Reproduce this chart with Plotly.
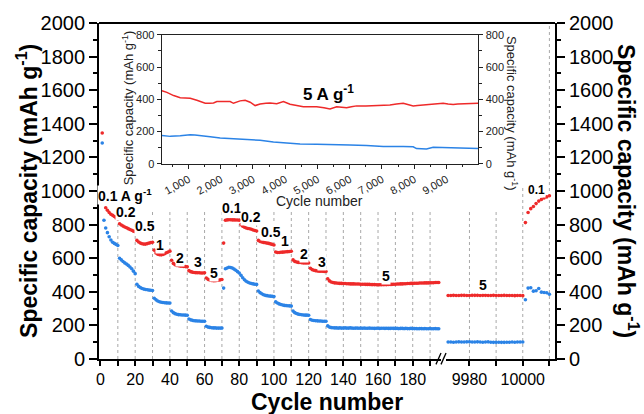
import plotly.graph_objects as go

# ---------------- data ----------------
# segment 1: cycles 1..195 (rate test 0.1-5 A/g, then 5 A/g)
cycles_seg1 = list(range(1, 196))
red_seg1 = [1345,
    940, 900, 885, 872, 862, 855, 848, 840, 833,
    805, 798, 791, 786, 781, 776, 771, 766, 761, 757,
    706, 696, 690, 686, 684, 684, 687, 690, 693, 695,
    648, 631, 624, 621, 620, 622, 627, 632, 637, 642,
    588, 569, 561, 557, 555, 553, 552, 551, 550, 549,
    526, 520, 517, 515, 514, 513, 513, 512, 512, 513,
    482, 474, 470, 467, 466, 466, 467, 469, 471, 473,
    690, 826, 828, 829, 829, 828, 828, 827, 827, 826,
    800, 790, 784, 780, 777, 775, 772, 768, 765, 762,
    706, 700, 696, 694, 692, 690, 688, 685, 682, 679,
    637, 634, 634, 635, 636, 637, 638, 639, 640, 641,
    590, 581, 577, 575, 574, 573, 572, 572, 571, 571,
    540, 532, 528, 526, 524, 523, 522, 522, 521, 521,
    478, 465, 458, 455, 453, 452, 451, 450, 450, 449,
    449, 448, 448, 447, 447, 447, 446, 446, 446, 445,
    445, 445, 444, 444, 444, 443, 443, 443, 442, 442,
    442, 442, 443, 443, 443, 444, 444, 444, 445, 445,
    446, 446, 447, 447, 448, 448, 449, 449, 450, 450,
    451, 451, 451, 452, 452, 452, 453, 453, 453, 454,
    454, 454, 455, 455, 455]
blue_seg1 = [1286,
    826, 780, 752, 728, 708, 695, 688, 682, 676,
    600, 590, 580, 572, 565, 557, 548, 537, 523, 508,
    445, 432, 425, 420, 416, 414, 412, 410, 409, 408,
    362, 352, 345, 341, 338, 336, 335, 334, 333, 333,
    286, 276, 270, 266, 264, 263, 262, 262, 261, 260,
    238, 233, 230, 228, 227, 226, 226, 225, 225, 225,
    195, 190, 188, 186, 185, 185, 184, 184, 184, 184,
    422, 537, 542, 546, 545, 541, 535, 528, 520, 512,
    498, 484, 472, 463, 457, 452, 449, 447, 445, 444,
    405, 395, 388, 382, 379, 377, 375, 374, 373, 372,
    340, 333, 328, 324, 321, 319, 318, 317, 316, 315,
    285, 276, 271, 267, 265, 263, 262, 261, 261, 260,
    235, 231, 229, 228, 227, 226, 226, 225, 225, 225,
    197, 190, 187, 186, 185, 185, 184, 185, 184, 184,
    185, 184, 184, 185, 184, 183, 184, 184, 183, 184,
    183, 184, 183, 183, 184, 183, 183, 182, 183, 183,
    182, 183, 183, 182, 183, 182, 182, 183, 182, 182,
    182, 181, 182, 182, 181, 182, 181, 181, 182, 181,
    181, 181, 180, 181, 181, 180, 181, 180, 180, 181,
    180, 180, 181, 180, 180]

# segment 2: cycles 9972..10010 (5 A/g, then 0.1 A/g)
cycles_seg2 = list(range(9972, 10011))
red_seg2 = [378, 378, 379, 378, 378, 379, 379, 378, 378, 379,
            379, 379, 378, 379, 379, 378, 378, 379, 378, 378,
            378, 379, 378, 378, 378, 377, 378, 378, 377,
            812, 872, 895, 908, 925, 940, 950, 958, 965, 972]
blue_seg2 = [101, 101, 100, 101, 102, 101, 101, 102, 102, 101,
             101, 102, 101, 100, 101, 102, 100, 99, 99, 100,
             99, 99, 100, 100, 101, 100, 101, 101, 101,
             353, 422, 424, 404, 406, 420, 398, 396, 394, 385]

# inset: long cycling at 5 A/g
inset_red_cycle = [177, 330, 540, 745, 900, 1054, 1260, 1400, 1519, 1650, 1777, 1880,
                   2100, 2293, 2396, 2500, 2602, 2757, 2912, 3067, 3221, 3400, 3531,
                   3737, 3944, 4150, 4350, 4563, 4800, 4976, 5200, 5389, 5595, 5750,
                   5905, 6050, 6214, 6500, 6833, 7050, 7246, 7450, 7659, 7800, 7968,
                   8100, 8278, 8500, 8691, 8897, 9050, 9207, 9350, 9517, 9700, 9981]
inset_red_cap = [453, 443, 423, 410, 408, 406, 394, 382, 375, 376, 377, 386,
                 386, 386, 375, 384, 390, 394, 382, 361, 371, 376, 377,
                 373, 386, 369, 360, 353, 354, 353, 347, 340, 353, 350,
                 347, 354, 359, 358, 359, 362, 365, 370, 375, 368, 359,
                 362, 365, 367, 369, 375, 370, 367, 371, 373, 372, 375]
inset_blue_cycle = [177, 435, 745, 1054, 1200, 1364, 1673, 1983, 2396, 2809, 3221,
                    3634, 3944, 4460, 4976, 5595, 6008, 6524, 7040, 7659, 7968,
                    8072, 8381, 8588, 9104, 9620, 9981]
inset_blue_cap = [176, 170, 174, 180, 178, 176, 168, 160, 154, 148, 146,
                  135, 129, 123, 121, 121, 117, 113, 107, 107, 105,
                  94, 92, 103, 98, 96, 94]

# rate-step boundaries (dashed lines)
boundaries_seg1 = list(range(10, 200, 10))
boundaries_seg2 = [9980, 9990, 10000, 10010]

# ticks
xticks_seg1 = list(range(0, 200, 20))
xminor_seg1 = list(range(10, 200, 20))
xticks_seg2 = [9980, 10000]
xminor_seg2 = [9990, 10010]

# rate labels
labels_seg1_text = ["0.1 A g<sup>-1</sup>", "0.2", "0.5", "1", "2", "3", "5",
                    "0.1", "0.2", "0.5", "1", "2", "3", "5"]
labels_seg1_x = [14.1, 14.7, 25.6, 34.3, 45.8, 56.0, 65.4,
                 75.6, 86.6, 98.1, 106.3, 117.3, 127.5, 164.6]
labels_seg1_y = [976, 877, 793, 679, 602, 576, 513,
                 901, 846, 757, 704, 625, 576, 497]
labels_seg2_text = ["5", "0.1"]
labels_seg2_x = [9985, 10005]
labels_seg2_y = [438, 1004]

RED = "#ee2a2a"
BLUE = "#2b83e6"
FONT = "Liberation Sans, Arial, sans-serif"
MS = 3.6

fig = go.Figure()
fig.add_trace(go.Scatter(x=cycles_seg1, y=red_seg1, mode="markers",
                         marker=dict(color=RED, size=MS), xaxis="x", yaxis="y"))
fig.add_trace(go.Scatter(x=cycles_seg1, y=blue_seg1, mode="markers",
                         marker=dict(color=BLUE, size=MS), xaxis="x", yaxis="y"))
fig.add_trace(go.Scatter(x=cycles_seg2, y=red_seg2, mode="markers",
                         marker=dict(color=RED, size=MS), xaxis="x2", yaxis="y2"))
fig.add_trace(go.Scatter(x=cycles_seg2, y=blue_seg2, mode="markers",
                         marker=dict(color=BLUE, size=MS), xaxis="x2", yaxis="y2"))
fig.add_trace(go.Scatter(x=inset_blue_cycle, y=inset_blue_cap, mode="lines",
                         line=dict(color=BLUE, width=1.5), xaxis="x3", yaxis="y3"))
fig.add_trace(go.Scatter(x=inset_red_cycle, y=inset_red_cap, mode="lines",
                         line=dict(color=RED, width=1.5), xaxis="x3", yaxis="y4"))

axis_common = dict(showline=True, linecolor="black", linewidth=1.8, ticks="outside",
                   tickcolor="black", tickwidth=1.5, showgrid=False, zeroline=False)
inset_common = dict(showline=True, linecolor="#222", linewidth=1.2, ticks="outside",
                    tickcolor="#222", tickwidth=1, showgrid=False, zeroline=False,
                    tickfont=dict(size=11, color="#222"))

fig.update_layout(
    width=644, height=414, autosize=False,
    margin=dict(l=99, r=89, t=21, b=55),
    paper_bgcolor="white", plot_bgcolor="white",
    showlegend=False,
    font=dict(family=FONT, color="black"),
    xaxis=dict(domain=[0, 0.75], range=[-0.86, 196.3], anchor="y",
               tickmode="array", tickvals=xticks_seg1, tickformat="d",
               minor=dict(tickmode="array", tickvals=xminor_seg1, ticks="outside",
                          ticklen=5, tickcolor="black", tickwidth=1.5),
               ticklen=5, tickfont=dict(size=16), **axis_common),
    xaxis2=dict(domain=[0.761, 1], range=[9971.2, 10012.1], anchor="y2",
                tickmode="array", tickvals=xticks_seg2, tickformat="d",
                minor=dict(tickmode="array", tickvals=xminor_seg2, ticks="outside",
                           ticklen=5, tickcolor="black", tickwidth=1.5),
                ticklen=5, tickfont=dict(size=16), **axis_common),
    yaxis=dict(domain=[0, 1], range=[0, 2000], anchor="x", dtick=200, ticklen=8,
               tickformat="d",
               minor=dict(dtick=100, ticks="outside", ticklen=4, tickcolor="black"),
               tickfont=dict(size=20), **axis_common),
    yaxis2=dict(domain=[0, 1], range=[0, 2000], anchor="x2", side="right", dtick=200,
                ticklen=8, tickformat="d",
                minor=dict(dtick=100, ticks="outside", ticklen=4, tickcolor="black"),
                tickfont=dict(size=20), **axis_common),
    xaxis3=dict(domain=[0.1375, 0.832], range=[170, 9990], anchor="y3",
                dtick=1000, tick0=0, tickformat=",", tickangle=-30, ticklen=4,
                minor=dict(dtick=500, ticks="outside", ticklen=2.5, tickcolor="#222"),
                mirror=True, **inset_common),
    yaxis3=dict(domain=[0.581, 0.965], range=[0, 800], anchor="x3", dtick=200, ticklen=4,
                minor=dict(dtick=100, ticks="outside", ticklen=2.5, tickcolor="#222"),
                **inset_common),
    yaxis4=dict(overlaying="y3", range=[0, 800], anchor="x3", side="right", dtick=200,
                ticklen=4,
                minor=dict(dtick=100, ticks="outside", ticklen=2.5, tickcolor="#222"),
                **inset_common),
)

shapes = []
dash_style = dict(color="#a8a8a8", width=1, dash="3px,3px")
for b in boundaries_seg1:
    shapes.append(dict(type="line", xref="x", yref="y", x0=b, x1=b, y0=0, y1=2000,
                       line=dash_style, layer="below"))
for b in boundaries_seg2:
    shapes.append(dict(type="line", xref="x2", yref="y2", x0=b, x1=b, y0=0, y1=2000,
                       line=dash_style, layer="below"))
# white area behind the inset (hides the dashed lines there) - drawn after them
shapes.append(dict(type="rect", xref="x", yref="y", x0=2.6, x1=196.3, y0=885, y1=2000,
                   fillcolor="white", line=dict(width=0), layer="below"))
shapes.append(dict(type="rect", xref="x2", yref="y2", x0=9971.2, x1=9997, y0=876, y1=2000,
                   fillcolor="white", line=dict(width=0), layer="below"))
shapes.append(dict(type="rect", xref="x2", yref="y2", x0=9997, x1=10002, y0=1030, y1=2000,
                   fillcolor="white", line=dict(width=0), layer="below"))
# top frame line
shapes.append(dict(type="line", xref="paper", yref="paper", x0=0, x1=1, y0=1, y1=1,
                   line=dict(color="black", width=1.8), layer="above"))
# axis break marks
for xc in (0.7445, 0.7555):
    shapes.append(dict(type="line", xref="paper", yref="paper",
                       x0=xc - 0.0055, x1=xc + 0.0055, y0=-0.016, y1=0.018,
                       line=dict(color="black", width=1.3), layer="above"))
fig.update_layout(shapes=shapes)

C = dict(xanchor="center", yanchor="middle", showarrow=False)
ann = []
for t, x, y in zip(labels_seg1_text, labels_seg1_x, labels_seg1_y):
    ann.append(dict(x=x, y=y, xref="x", yref="y", text="<b>%s</b>" % t,
                    font=dict(size=14, family=FONT), bgcolor="white", borderpad=0, **C))
for t, x, y in zip(labels_seg2_text, labels_seg2_x, labels_seg2_y):
    ann.append(dict(x=x, y=y, xref="x2", yref="y2", text="<b>%s</b>" % t,
                    font=dict(size=14 if t == "5" else 12, family=FONT),
                    bgcolor="white", borderpad=0, **C))
ann.append(dict(x=5356, y=437, xref="x3", yref="y3", text="<b>5 A g<sup>-1</sup></b>",
                font=dict(size=17, family=FONT), **C))
# axis titles
ann.append(dict(x=-0.158, y=0.5, xref="paper", yref="paper", textangle=-90,
                text="<b>Specific capacity (mAh g<sup>-1</sup>)</b>",
                font=dict(size=23, family=FONT), **C))
ann.append(dict(x=1.160, y=0.5, xref="paper", yref="paper", textangle=90,
                text="<b>Specific capacity (mAh g<sup>-1</sup>)</b>",
                font=dict(size=23, family=FONT), **C))
ann.append(dict(x=0.5, y=-0.127, xref="paper", yref="paper",
                text="<b>Cycle number</b>", font=dict(size=23, family=FONT), **C))
ann.append(dict(x=0.0636, y=0.746, xref="paper", yref="paper", textangle=-90,
                text="Specific capacity (mAh g<sup>-1</sup>)",
                font=dict(size=13, family=FONT, color="#222"), **C))
ann.append(dict(x=0.906, y=0.732, xref="paper", yref="paper", textangle=90,
                text="Specific capacity (mAh g<sup>-1</sup>)",
                font=dict(size=13, family=FONT, color="#222"), **C))
ann.append(dict(x=0.4846, y=0.470, xref="paper", yref="paper",
                text="Cycle number", font=dict(size=14, family=FONT, color="#222"), **C))
fig.update_layout(annotations=ann)

fig.write_html("out.html")
